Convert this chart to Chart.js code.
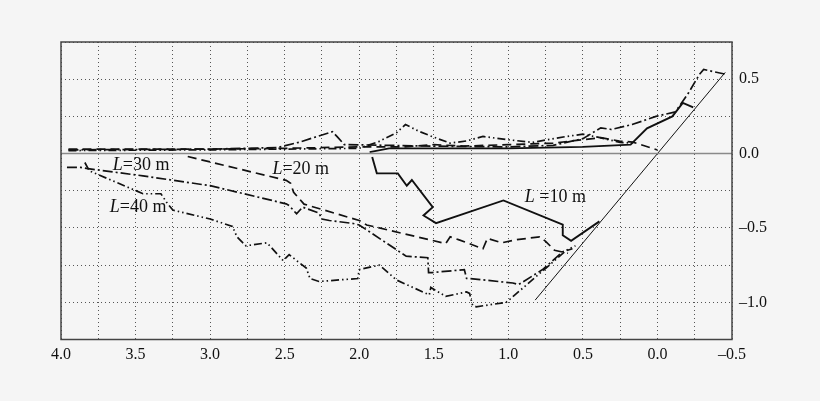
<!DOCTYPE html>
<html>
<head>
<meta charset="utf-8">
<script src="https://cdn.jsdelivr.net/npm/chart.js@4/dist/chart.umd.min.js"></script>
<style>
  html, body { margin: 0; padding: 0; background: #f5f5f5; }
  #wrap { width: 820px; height: 401px; position: relative; }
</style>
</head>
<body>
<div id="wrap"><canvas id="loopChart"></canvas></div>
<script>
// 軸の範囲と目盛
const xRange = [-0.5, 4.0];
const yRange = [-1.25, 0.75];
const gridStep = 0.25;
const labelStep = 0.5;

// 各曲線 [x, y] — 上側の枝と下側の枝
const l10Upper = [[1.93,0.01],[1.8,0.035],[1.0,0.035],[0.5,0.045],[0.18,0.06],[0.07,0.17],[-0.10,0.25],[-0.17,0.34],[-0.24,0.31]];
const l10Lower = [[1.913,-0.023],[1.882,-0.133],[1.741,-0.133],[1.681,-0.216],[1.647,-0.178],[1.507,-0.36],[1.569,-0.416],[1.485,-0.468],[1.033,-0.315],[0.635,-0.478],[0.635,-0.549],[0.579,-0.587],[0.389,-0.456]];

const l20Upper = [[3.95,0.03],[3.0,0.03],[2.5,0.035],[2.0,0.045],[1.7,0.045],[1.5,0.06],[1.3,0.05],[1.0,0.06],[0.7,0.07],[0.38,0.107],[0.255,0.084],[0.165,0.077],[0.0,0.024]];
const l20Lower = [[3.15,-0.02],[2.49,-0.18],[2.46,-0.2],[2.44,-0.26],[2.37,-0.34],[2.0,-0.45],[1.95,-0.48],[1.42,-0.605],[1.39,-0.56],[1.33,-0.58],[1.17,-0.64],[1.14,-0.57],[1.045,-0.6],[0.95,-0.58],[0.79,-0.56],[0.75,-0.59],[0.69,-0.65],[0.6,-0.67]];

const l30Upper = [[3.95,0.025],[3.0,0.03],[2.55,0.04],[2.4,0.077],[2.18,0.147],[2.145,0.11],[2.1,0.06],[1.5,0.05],[1.0,0.045],[0.7,0.055],[0.5,0.1],[0.38,0.173],[0.31,0.162],[0.17,0.195],[0.01,0.25],[-0.12,0.28],[-0.21,0.41],[-0.28,0.53],[-0.31,0.565],[-0.45,0.535]];
const l30Lower = [[3.96,-0.093],[3.87,-0.093],[3.83,-0.10],[3.45,-0.15],[3.0,-0.216],[2.49,-0.338],[2.47,-0.35],[2.42,-0.405],[2.38,-0.36],[2.27,-0.40],[2.25,-0.44],[2.2,-0.45],[2.04,-0.47],[2.0,-0.48],[1.685,-0.69],[1.54,-0.70],[1.535,-0.80],[1.51,-0.80],[1.295,-0.78],[1.28,-0.84],[1.26,-0.84],[0.97,-0.87],[0.93,-0.88],[0.77,-0.78],[0.635,-0.66],[0.57,-0.64]];

const l40Upper = [[3.95,0.02],[3.0,0.025],[2.5,0.03],[2.0,0.035],[1.87,0.08],[1.75,0.14],[1.69,0.195],[1.6,0.15],[1.5,0.11],[1.39,0.07],[1.28,0.085],[1.17,0.115],[1.02,0.095],[0.84,0.075],[0.61,0.115],[0.50,0.13],[0.4,0.11],[0.25,0.075],[0.15,0.07]];
const l40Lower = [[3.84,-0.06],[3.81,-0.116],[3.45,-0.27],[3.33,-0.27],[3.29,-0.33],[3.25,-0.38],[3.0,-0.44],[2.85,-0.49],[2.82,-0.56],[2.76,-0.62],[2.62,-0.6],[2.6,-0.62],[2.51,-0.72],[2.47,-0.68],[2.355,-0.77],[2.33,-0.84],[2.27,-0.86],[2.01,-0.84],[2.0,-0.78],[1.865,-0.75],[1.75,-0.85],[1.53,-0.95],[1.52,-0.90],[1.42,-0.96],[1.28,-0.93],[1.26,-0.94],[1.24,-1.02],[1.215,-1.03],[1.015,-1.0],[0.99,-0.98],[0.61,-0.65],[0.55,-0.62]];

// 補助線
const diagonalLine = [[0.82,-0.985],[-0.455,0.546]];
const zeroLine = [[4.0,0],[-0.5,0]];

// 曲線ラベル [italic部分, 残り, x, y]
const curveLabels = [
    ['L', '=30 m', 3.653, -0.078],
    ['L', '=20 m', 2.582, -0.105],
    ['L', '=40 m', 3.673, -0.358],
    ['L', ' =10 m', 0.89, -0.291]
];

const toXY = arr => arr.map(p => ({ x: p[0], y: p[1] }));

function lineSet(points, dash, width) {
    return {
        data: toXY(points),
        borderColor: '#111',
        borderWidth: width,
        borderDash: dash,
        pointRadius: 0,
        tension: 0,
        fill: false
    };
}

const dashed = [9, 5];
const dashDot = [10, 3, 2, 3];
const dashDotDot = [8, 3, 1.5, 3, 1.5, 3];

const datasets = [
    Object.assign(lineSet(zeroLine, [], 1.6), { borderColor: '#8a8a8a' }),
    lineSet(diagonalLine, [], 1),
    lineSet(l10Upper, [], 1.9),
    lineSet(l10Lower, [], 1.9),
    lineSet(l20Upper, dashed, 1.7),
    lineSet(l20Lower, dashed, 1.7),
    lineSet(l30Upper, dashDot, 1.7),
    lineSet(l30Lower, dashDot, 1.7),
    lineSet(l40Upper, dashDotDot, 1.7),
    lineSet(l40Lower, dashDotDot, 1.7)
];

const serif = '"Liberation Serif", "DejaVu Serif", serif';

// 枠とラベル描画
const framePlugin = {
    id: 'frameAndLabels',
    afterDatasetsDraw(chart) {
        const { ctx, chartArea, scales } = chart;
        ctx.save();
        ctx.strokeStyle = '#444';
        ctx.lineWidth = 1.5;
        ctx.strokeRect(chartArea.left, chartArea.top, chartArea.right - chartArea.left, chartArea.bottom - chartArea.top);

        ctx.fillStyle = '#111';
        ctx.textBaseline = 'middle';
        curveLabels.forEach(([ital, rest, x, y]) => {
            const px = scales.x.getPixelForValue(x);
            const py = scales.y.getPixelForValue(y);
            ctx.font = 'italic 18px ' + serif;
            ctx.fillText(ital, px, py);
            const w = ctx.measureText(ital).width;
            ctx.font = '18px ' + serif;
            ctx.fillText(rest, px + w, py);
        });
        ctx.restore();
    }
};

const isLabelTick = v => Math.abs(v / labelStep - Math.round(v / labelStep)) < 1e-6;
const fmt = v => {
    const s = Math.abs(v).toFixed(1);
    return v < -1e-9 ? '\u2013' + s : s;
};

new Chart(document.getElementById('loopChart'), {
    type: 'line',
    data: { datasets },
    options: {
        responsive: true,
        maintainAspectRatio: false,
        animation: false,
        layout: { padding: { left: 61, top: 42, right: 0, bottom: 0 } },
        plugins: {
            legend: { display: false },
            tooltip: { enabled: false }
        },
        scales: {
            x: {
                type: 'linear',
                reverse: true,
                min: xRange[0],
                max: xRange[1],
                afterFit: s => { s.height = 61.5; },
                border: { display: false, dash: [1, 3] },
                grid: { color: '#555', lineWidth: 1, drawTicks: false },
                ticks: {
                    stepSize: gridStep,
                    autoSkip: false,
                    maxRotation: 0,
                    padding: 6,
                    color: '#111',
                    font: { family: serif, size: 16 },
                    callback: v => isLabelTick(v) ? fmt(v) : ''
                }
            },
            y: {
                type: 'linear',
                position: 'right',
                min: yRange[0],
                max: yRange[1],
                afterFit: s => { s.width = 88; },
                border: { display: false, dash: [1, 3] },
                grid: { color: '#555', lineWidth: 1, drawTicks: false },
                ticks: {
                    stepSize: gridStep,
                    autoSkip: false,
                    padding: 7,
                    color: '#111',
                    font: { family: serif, size: 16 },
                    callback: v => isLabelTick(v) ? fmt(v) : ''
                }
            }
        }
    },
    plugins: [framePlugin]
});
</script>
</body>
</html>
